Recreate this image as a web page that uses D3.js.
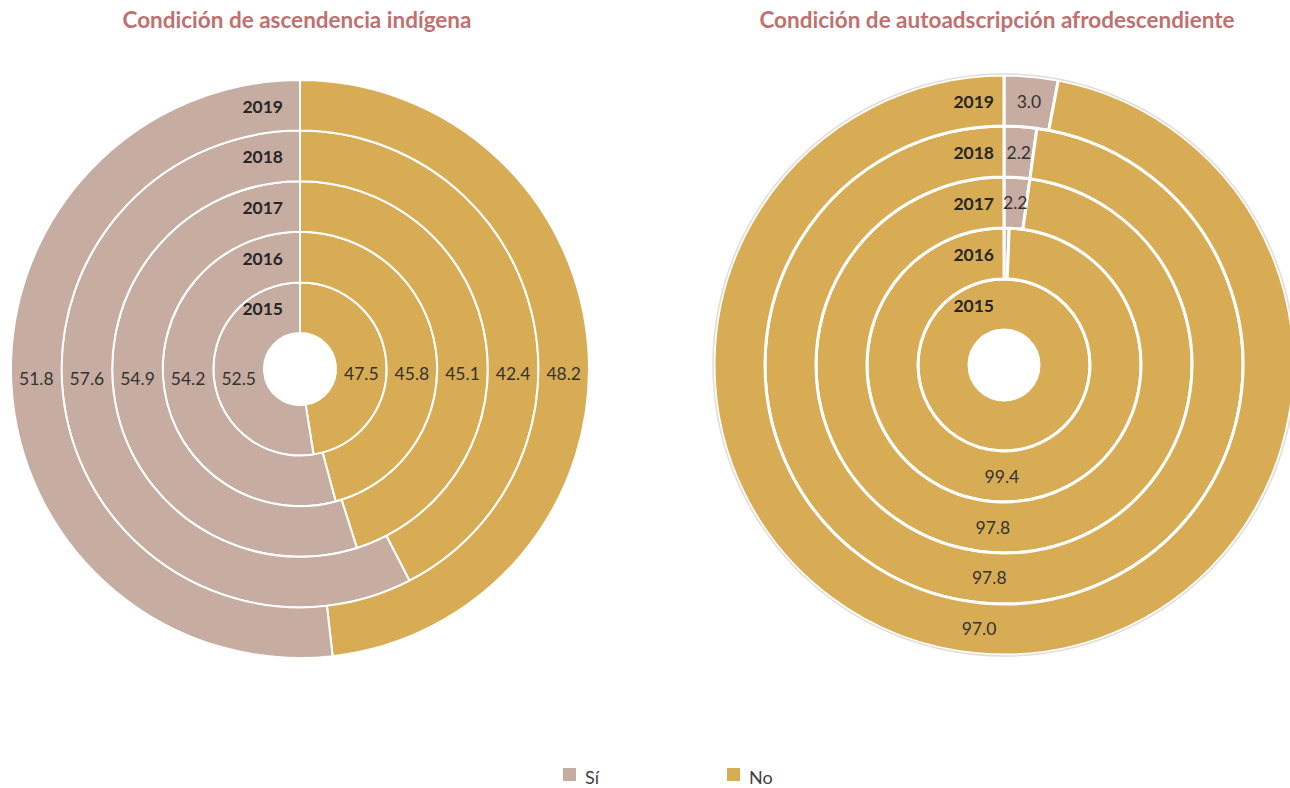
<!DOCTYPE html>
<html>
<head>
<meta charset="utf-8">
<script src="https://cdn.jsdelivr.net/npm/d3@7"></script>
<style>
  body { margin: 0; background: #fff; }
  svg { display: block; font-family: Lato, "Open Sans", sans-serif; }
</style>
</head>
<body>
<svg id="chart" width="1290" height="788"></svg>
<script>
// data (inner ring = 2015, outer ring = 2019)
const years = ['2015', '2016', '2017', '2018', '2019']
const categories = ['Sí', 'No']

const indigenaSi = [52.5, 54.2, 54.9, 57.6, 51.8]
const indigenaNo = [47.5, 45.8, 45.1, 42.4, 48.2]

const afroSi = [0, 0.6, 2.2, 2.2, 3.0]
const afroNo = [100, 99.4, 97.8, 97.8, 97.0]
// which labels are printed in the reference
const afroSiShown = [false, false, true, true, true]
const afroNoShown = [false, true, true, true, true]

const colors = { 'Sí': '#c6aca1', 'No': '#d8ac55' }

const svg = d3.select('#chart')

function drawDonut(cfg) {
    const g = svg.append('g').attr('transform', `translate(${cfg.cx},${cfg.cy})`)

    const ring = d3.scaleBand()
        .domain(years)
        .range([cfg.inner, cfg.outer])

    const pie = d3.pie().sort(null).value(d => d.value)

    years.forEach((year, i) => {
        let rows = [
            { cat: 'Sí', value: cfg.si[i], shown: cfg.siShown[i] },
            { cat: 'No', value: cfg.no[i], shown: cfg.noShown[i] }
        ]
        if (cfg.noFirst) rows = rows.reverse()
        const arcs = pie(rows)
        const r0 = ring(year)
        const r1 = r0 + ring.bandwidth()
        const arc = d3.arc().innerRadius(r0).outerRadius(r1)

        const yg = g.append('g')
        yg.selectAll('path')
            .data(arcs)
            .join('path')
            .attr('d', arc)
            .attr('fill', d => colors[d.data.cat])
            .attr('stroke', '#fff')
            .attr('stroke-width', cfg.strokeWidth)
            .attr('stroke-linejoin', 'round')

        // label position: centroid, or mid-ring on the horizontal line
        const labelPos = d => {
            if (!cfg.horizontalLabels) return arc.centroid(d)
            const mid = (d.startAngle + d.endAngle) / 2
            const side = Math.sin(mid) >= 0 ? 1 : -1
            return [side * (r0 + r1) / 2, side > 0 ? 4 : 9]
        }

        yg.selectAll('text.val')
            .data(arcs.filter(d => d.data.shown))
            .join('text')
            .attr('class', 'val')
            .attr('transform', d => `translate(${labelPos(d)})`)
            .attr('text-anchor', 'middle')
            .attr('dominant-baseline', 'central')
            .attr('font-size', 17.5)
            .attr('fill', '#333')
            .text(d => d3.format('.1f')(d.data.value))

        // year labels, left of the top line
        g.append('text')
            .attr('x', cfg.yearX)
            .attr('y', -(r0 + r1) / 2 + 1)
            .attr('text-anchor', 'end')
            .attr('dominant-baseline', 'central')
            .attr('font-size', 17.5)
            .attr('font-weight', 'bold')
            .attr('fill', '#262626')
            .text(year)
    })

    if (cfg.outline) {
        g.append('circle')
            .attr('r', cfg.outer + 1)
            .attr('fill', 'none')
            .attr('stroke', '#e2ddd8')
            .attr('stroke-width', 1.5)
    }

    svg.append('text')
        .attr('x', cfg.titleX)
        .attr('y', 19)
        .attr('text-anchor', 'middle')
        .attr('dominant-baseline', 'central')
        .attr('font-size', 22.5)
        .attr('font-weight', 'bold')
        .attr('fill', '#c0716f')
        .text(cfg.title)
}

drawDonut({
    cx: 300, cy: 369, inner: 36, outer: 289,
    si: indigenaSi, no: indigenaNo, noFirst: true,
    siShown: years.map(() => true), noShown: years.map(() => true),
    horizontalLabels: true,
    strokeWidth: 2, yearX: -17, outline: false,
    titleX: 297, title: 'Condición de ascendencia indígena'
})

drawDonut({
    cx: 1004, cy: 365, inner: 35, outer: 290,
    si: afroSi, no: afroNo, noFirst: false,
    siShown: afroSiShown, noShown: afroNoShown,
    horizontalLabels: false,
    strokeWidth: 3, yearX: -10, outline: true,
    titleX: 997, title: 'Condición de autoadscripción afrodescendiente'
})

// legend
const legend = svg.append('g')
const legendX = d3.scalePoint().domain(categories).range([563, 727])
categories.forEach(c => {
    legend.append('rect')
        .attr('x', legendX(c)).attr('y', 768)
        .attr('width', 13).attr('height', 13)
        .attr('fill', colors[c])
    legend.append('text')
        .attr('x', legendX(c) + 22).attr('y', 777)
        .attr('dominant-baseline', 'central')
        .attr('font-size', 18)
        .attr('fill', '#404040')
        .text(c)
})
</script>
</body>
</html>
